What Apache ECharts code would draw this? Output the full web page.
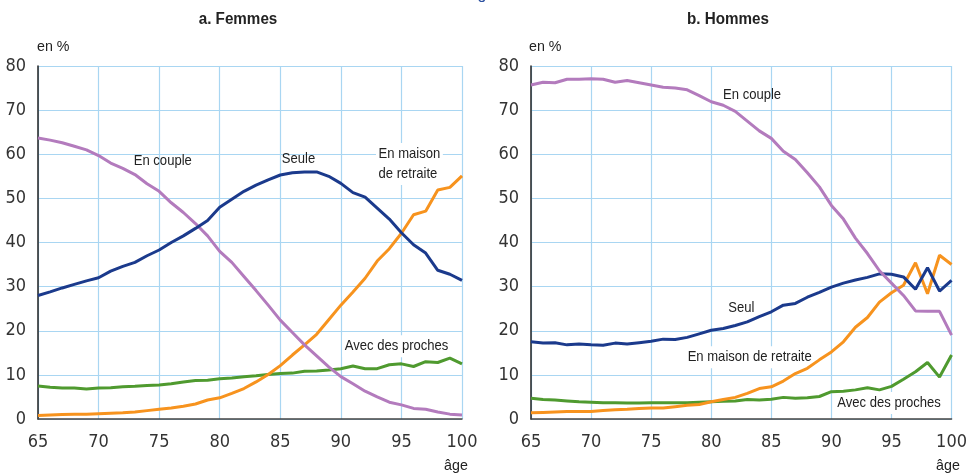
<!DOCTYPE html>
<html><head><meta charset="utf-8">
<script src="https://cdn.jsdelivr.net/npm/echarts@6/dist/echarts.min.js"></script>
<style>html,body{margin:0;padding:0;background:#fff}#c{width:970px;height:475px}</style>
</head><body><div id="c"></div>
<script>
const ages = [65,66,67,68,69,70,71,72,73,74,75,76,77,78,79,80,81,82,83,84,85,86,87,88,89,90,91,92,93,94,95,96,97,98,99,100];
const xTicks = [65,70,75,80,85,90,95,100];
const yTicks = [0,10,20,30,40,50,60,70,80];

// a. Femmes
const fCouple = [63.7,63.2,62.6,61.8,61.0,59.7,58.0,56.8,55.4,53.3,51.6,49.0,46.8,44.3,41.5,38.0,35.5,32.3,29.1,25.8,22.4,19.6,16.8,14.3,11.8,9.6,8.0,6.3,5.0,3.8,3.2,2.4,2.2,1.6,1.1,0.9];
const fSeule = [28.0,28.8,29.7,30.5,31.3,32.0,33.5,34.6,35.5,37.0,38.3,40.0,41.5,43.2,45.0,48.0,49.8,51.6,53.0,54.2,55.3,55.8,56.0,56.0,55.0,53.4,51.3,50.3,47.8,45.3,42.2,39.5,37.6,33.7,32.8,31.4];
const fMaison = [0.8,0.9,1.0,1.1,1.1,1.2,1.3,1.4,1.6,1.9,2.2,2.5,2.9,3.4,4.3,4.8,5.8,6.9,8.4,10.1,12.1,14.5,16.8,19.2,22.5,25.8,28.8,31.9,35.8,38.6,42.1,46.3,47.1,51.9,52.5,55.1];
const fProches = [7.5,7.2,7.0,7.0,6.8,7.0,7.1,7.3,7.4,7.6,7.7,8.0,8.4,8.7,8.8,9.1,9.3,9.6,9.8,10.1,10.3,10.4,10.8,10.9,11.1,11.4,12.0,11.4,11.4,12.3,12.5,11.9,13.0,12.8,13.8,12.5];

// b. Hommes
const hCouple = [75.7,76.3,76.2,77.0,77.0,77.1,77.0,76.3,76.7,76.2,75.7,75.2,75.0,74.6,73.3,71.9,71.1,69.7,67.5,65.3,63.6,60.7,58.8,55.8,52.6,48.4,45.3,41.0,37.5,33.6,30.8,28.0,24.5,24.4,24.4,19.0];
const hSeul = [17.5,17.2,17.3,16.8,17.0,16.8,16.7,17.2,17.0,17.3,17.6,18.1,18.0,18.5,19.3,20.1,20.5,21.2,22.0,23.2,24.3,25.8,26.2,27.6,28.7,29.9,30.8,31.5,32.1,32.9,32.8,32.2,29.4,34.3,29.0,31.4];
const hMaison = [1.4,1.5,1.6,1.7,1.7,1.7,1.9,2.1,2.2,2.4,2.5,2.5,2.8,3.1,3.3,3.9,4.4,4.9,5.8,6.9,7.3,8.6,10.3,11.5,13.4,15.2,17.5,20.8,23.0,26.5,28.6,30.3,35.4,28.4,37.1,35.0];
const hProches = [4.7,4.4,4.3,4.1,3.9,3.8,3.7,3.7,3.6,3.6,3.7,3.7,3.7,3.7,3.8,3.9,4.0,4.1,4.4,4.3,4.5,4.9,4.7,4.8,5.1,6.2,6.3,6.6,7.1,6.6,7.4,9.0,10.7,12.8,9.5,14.5];

const C = {couple:'#b37bbd', seul:'#1b3a8c', maison:'#f7931e', proches:'#4f9a2f'};
const FONT = "'DejaVu Sans Condensed','Liberation Sans Narrow',sans-serif";
const TFONT = "'Liberation Sans',Arial,sans-serif";
const pair = v => ages.map((a,i)=>[a,v[i]]);

const chart = echarts.init(document.getElementById('c'), null, {renderer:'canvas'});

function xAx(gi){return {type:'value',gridIndex:gi,min:65,max:100,interval:5,
  axisLine:{show:true,onZero:false,lineStyle:{color:'#444',width:1.5}},axisTick:{show:false},
  axisLabel:{color:'#333',fontSize:18,fontFamily:FONT,margin:14,formatter:v=>xTicks.includes(v)?String(v):''},
  splitLine:{show:true,lineStyle:{color:'#a9d6f2',width:1.2}}};}
function yAx(gi){return {type:'value',gridIndex:gi,min:0,max:80,interval:10,
  axisLine:{show:true,lineStyle:{color:'#222',width:1.5}},axisTick:{show:false},
  axisLabel:{color:'#333',fontSize:18,fontFamily:FONT,margin:12,formatter:v=>yTicks.includes(v)?String(v):''},
  splitLine:{show:true,lineStyle:{color:'#a9d6f2',width:1.2}}};}
function ser(gi,data,color,z){return {type:'line',xAxisIndex:gi,yAxisIndex:gi,data:pair(data),
  showSymbol:false,symbol:'none',smooth:false,z:z||2,lineStyle:{color:color,width:3},animation:false};}

chart.setOption({
  animation:false,
  grid:[{left:38,right:508,top:66,bottom:56},{left:531,right:18,top:66,bottom:56}],
  xAxis:[xAx(0),xAx(1)],
  yAxis:[yAx(0),yAx(1)],
  series:[
    ser(0,fProches,C.proches),ser(0,fMaison,C.maison),ser(0,fCouple,C.couple),ser(0,fSeule,C.seul),
    ser(1,hProches,C.proches),ser(1,hMaison,C.maison),ser(1,hSeul,C.seul),ser(1,hCouple,C.couple,3)
  ]
});

// annotations placed in data coordinates
const labels = [
  {g:0, pos:[75.3,58.5], text:'En couple', align:'center', bg:false},
  {g:0, pos:[86.5,59.0], text:'Seule', align:'center', bg:false},
  {g:0, pos:[92.9,57.8], text:'En maison\nde retraite', align:'left', bg:true},
  {g:0, pos:[94.6,16.5], text:'Avec des proches', align:'center', bg:true},
  {g:1, pos:[83.4,73.4], text:'En couple', align:'center', bg:false},
  {g:1, pos:[82.5,25.3], text:'Seul', align:'center', bg:false},
  {g:1, pos:[83.2,14.0], text:'En maison de retraite', align:'center', bg:true},
  {g:1, pos:[94.8,3.6], text:'Avec des proches', align:'center', bg:true}
];
const graphics = labels.map(l=>{
  const p = chart.convertToPixel({gridIndex:l.g}, l.pos);
  return {type:'text', x:p[0], y:p[1], z:1, scaleX:0.87, style:{text:l.text, fill:'#222', font:'15px '+TFONT,
    align:l.align, verticalAlign:'middle', lineHeight:20,
    backgroundColor:l.bg?'#fff':'transparent', padding:l.bg?[1,3]:0}};
});
graphics.push(
  {type:'text', x:238, y:20, scaleX:0.95, style:{text:'a. Femmes', fill:'#222', font:'bold 16px '+TFONT, align:'center', verticalAlign:'middle'}},
  {type:'text', x:728, y:20, scaleX:0.95, style:{text:'b. Hommes', fill:'#222', font:'bold 16px '+TFONT, align:'center', verticalAlign:'middle'}},
  {type:'text', x:37, y:47, scaleX:0.95, style:{text:'en %', fill:'#222', font:'15px '+TFONT, align:'left', verticalAlign:'middle'}},
  {type:'text', x:529, y:47, scaleX:0.95, style:{text:'en %', fill:'#222', font:'15px '+TFONT, align:'left', verticalAlign:'middle'}},
  {type:'text', x:456, y:466, scaleX:0.95, style:{text:'âge', fill:'#222', font:'15px '+TFONT, align:'center', verticalAlign:'middle'}},
  {type:'text', x:948, y:466, scaleX:0.95, style:{text:'âge', fill:'#222', font:'15px '+TFONT, align:'center', verticalAlign:'middle'}},
  {type:'text', x:482, y:-5, style:{text:'g', fill:'#2a4fa0', font:'16px '+TFONT, align:'center', verticalAlign:'middle'}}
);
chart.setOption({graphic:graphics});
</script></body></html>
